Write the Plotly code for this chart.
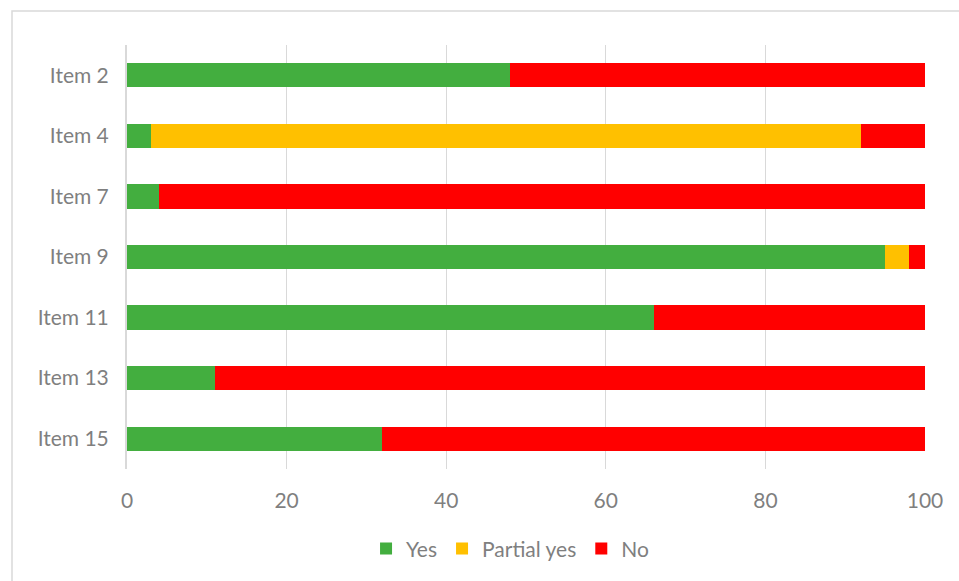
import plotly.graph_objects as go

items = ["Item 2", "Item 4", "Item 7", "Item 9", "Item 11", "Item 13", "Item 15"]
yes = [48, 3, 4, 95, 66, 11, 32]
partial = [0, 89, 0, 3, 0, 0, 0]
no = [52, 8, 96, 2, 34, 89, 68]

series = [("Yes", yes, "#43AE3F"), ("Partial yes", partial, "#FFC000"), ("No", no, "#FF0000")]

fig = go.Figure()
for name, vals, col in series:
    fig.add_trace(go.Bar(y=items, x=vals, name=name, orientation="h",
                         marker=dict(color=col, line=dict(width=0))))

font = dict(family="Lato, Carlito, sans-serif", size=21, color="#7F7F7F")
W, H = 959, 581
L, R, T, B = 127, 34, 45, 112
pw, ph = W - L - R, H - T - B

fig.update_layout(
    width=W, height=H, barmode="stack", bargap=0.6,
    margin=dict(l=L, r=R, t=T, b=B, pad=0),
    paper_bgcolor="white", plot_bgcolor="white", font=font,
    xaxis=dict(range=[0, 100], dtick=20, showgrid=True, gridcolor="#D9D9D9", gridwidth=1,
               zeroline=False, showline=False, ticks="", tickfont=font, ticklabelstandoff=17),
    yaxis=dict(autorange="reversed", showline=True, linecolor="#D9D9D9", linewidth=2,
               ticks="", tickfont=font, ticklabelstandoff=12, showgrid=False),
    legend=dict(orientation="h", x=0.48, xanchor="center", y=-0.14, yanchor="top",
                font=font, traceorder="normal", itemwidth=30),
    showlegend=True,
)
fig.add_shape(type="rect", xref="paper", yref="paper",
              x0=(12 - L) / pw, x1=(W + 5 - L) / pw,
              y0=(T + ph - (H + 5)) / ph, y1=(T + ph - 11) / ph,
              line=dict(color="#D9D9D9", width=1.5), fillcolor="rgba(0,0,0,0)", layer="below")
fig.write_html("out.html")
